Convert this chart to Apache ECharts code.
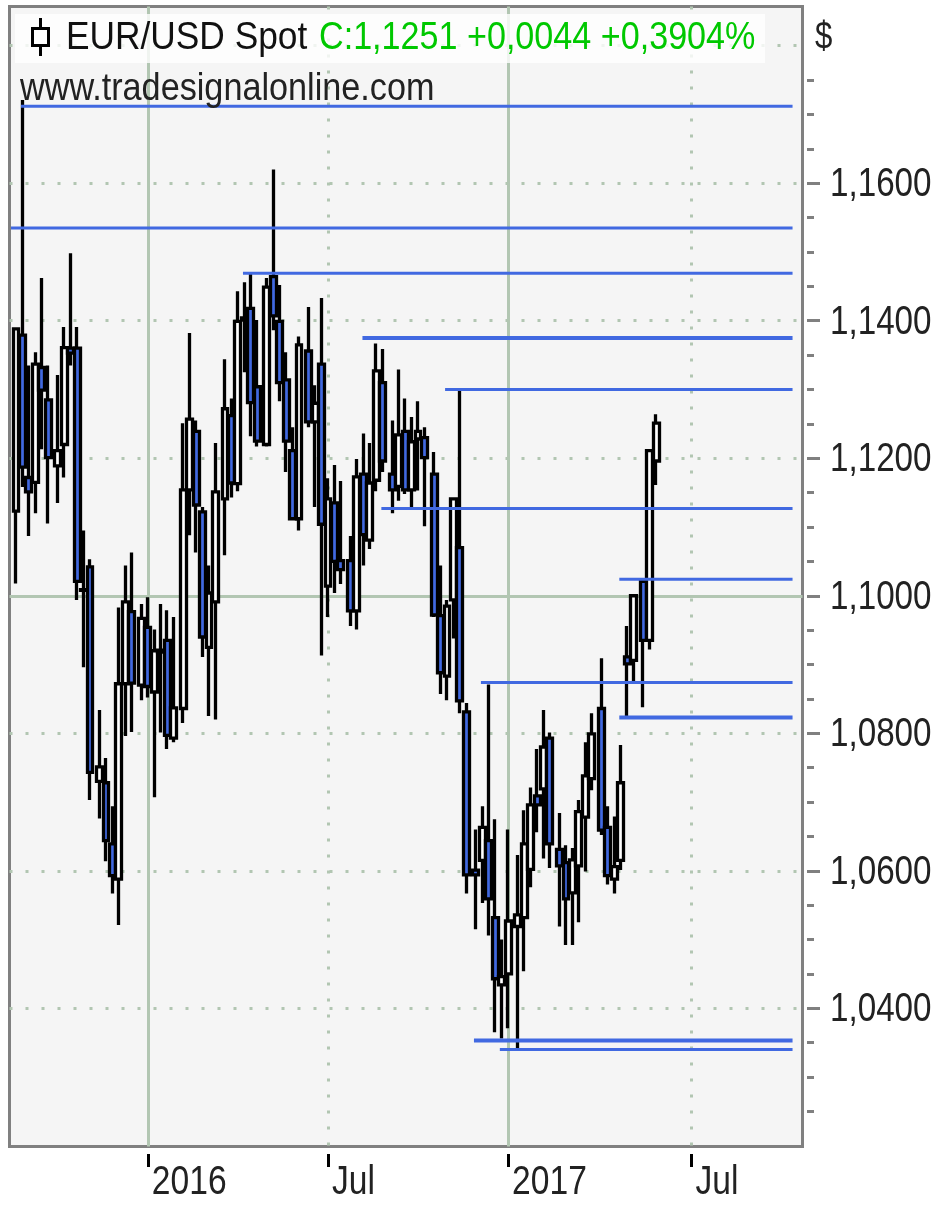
<!DOCTYPE html>
<html>
<head>
<meta charset="utf-8">
<style>html,body{margin:0;padding:0;background:#fff}#chart{width:940px;height:1206px}</style>
<script src="https://cdn.jsdelivr.net/npm/echarts@6/dist/echarts.min.js"></script>
</head>
<body>
<div id="chart"></div>
<script>
// Weekly bars, week-ending date of the first bar
const firstWeek = '2015-08-21';
const opens = [
1.1123,1.1379,1.1172,1.1165,1.1332,1.1285,1.1189,1.1220,1.1360,1.1360,
1.1009,1.1042,1.0730,1.0728,1.0639,1.0588,1.0872,1.0977,1.0870,1.0954,
1.0860,1.0921,1.0935,1.0793,1.0836,1.1154,1.1239,1.1122,1.0925,1.0991,
1.1141,1.1262,1.1163,1.1404,1.1418,1.1304,1.1220,1.1464,1.1399,1.1314,
1.1211,1.1112,1.1356,1.1253,1.1337,1.1014,1.1135,1.1051,1.1051,1.0978,
1.1177,1.1081,1.1168,1.1310,1.1177,1.1159,1.1239,1.1154,1.1228,1.1230,
1.1177,1.0971,1.0883,1.0994,1.1070,1.0831,1.0601,1.0615,1.0644,1.0532,
1.0434,1.0450,1.0519,1.0532,1.0602,1.0709,1.0719,1.0793,1.0631,1.0612,
1.0568,1.0607,1.0678,1.0734,1.0836,1.0663,1.0588,1.0615,1.0911,1.0906,
1.1021,1.0935,1.1196];
const closes = [
1.1388,1.1187,1.1151,1.1337,1.1299,1.1201,1.1211,1.1361,1.1353,1.1021,
1.1008,1.0743,1.0751,1.0644,1.0593,1.0872,1.0991,1.0873,1.0967,1.0868,
1.0920,1.0918,1.0797,1.0837,1.1154,1.1257,1.1132,1.0940,1.1004,1.1151,
1.1272,1.1164,1.1399,1.1401,1.1281,1.1225,1.1449,1.1407,1.1310,1.1225,
1.1112,1.1365,1.1253,1.1280,1.1104,1.1141,1.1050,1.1038,1.0978,1.1173,
1.1089,1.1164,1.1327,1.1196,1.1154,1.1234,1.1154,1.1224,1.1239,1.1201,
1.0972,1.0888,1.0985,1.1141,1.0847,1.0594,1.0594,1.0663,1.0559,1.0443,
1.0446,1.0527,1.0536,1.0639,1.0696,1.0696,1.0780,1.0639,1.0607,1.0559,
1.0616,1.0686,1.0738,1.0799,1.0659,1.0593,1.0606,1.0728,1.0901,1.1000,
1.0935,1.1211,1.1251];
const lows = [
1.1018,1.1158,1.1087,1.1120,1.1213,1.1105,1.1135,1.1172,1.1335,1.0994,
1.0896,1.0703,1.0676,1.0614,1.0567,1.0521,1.0796,1.0802,1.0848,1.0852,
1.0707,1.0801,1.0777,1.0787,1.0815,1.1088,1.1063,1.0911,1.0825,1.0820,
1.1059,1.1143,1.1152,1.1325,1.1232,1.1217,1.1217,1.1386,1.1283,1.1180,
1.1110,1.1095,1.1245,1.1129,1.0913,1.0969,1.1004,1.1017,1.0956,1.0951,
1.1044,1.1068,1.1152,1.1180,1.1120,1.1138,1.1148,1.1129,1.1153,1.1101,
1.0969,1.0857,1.0848,1.0938,1.0829,1.0567,1.0515,1.0553,1.0506,1.0365,
1.0356,1.0371,1.0342,1.0454,1.0576,1.0656,1.0618,1.0604,1.0519,1.0492,
1.0492,1.0525,1.0599,1.0717,1.0652,1.0580,1.0567,1.0601,1.0825,1.0876,
1.0838,1.0922,1.1161];
const highs = [
1.1388,1.1721,1.1335,1.1354,1.1462,1.1335,1.1321,1.1391,1.1498,1.1391,
1.1095,1.1053,1.0834,1.0764,1.0694,1.0983,1.1044,1.1063,1.0988,1.0998,
1.0951,1.0988,1.0979,1.0969,1.1251,1.1382,1.1255,1.1129,1.1044,1.1222,
1.1344,1.1287,1.1443,1.1456,1.1468,1.1401,1.1462,1.1620,1.1452,1.1354,
1.1245,1.1377,1.1420,1.1306,1.1433,1.1171,1.1190,1.1167,1.1087,1.1199,
1.1236,1.1222,1.1367,1.1359,1.1255,1.1329,1.1287,1.1260,1.1283,1.1245,
1.1209,1.1044,1.0994,1.1143,1.1299,1.0844,1.0660,1.0694,1.0871,1.0675,
1.0500,1.0660,1.0623,1.0688,1.0721,1.0777,1.0834,1.0801,1.0684,1.0637,
1.0633,1.0703,1.0787,1.0829,1.0909,1.0694,1.0679,1.0783,1.0956,1.1002,
1.1025,1.1213,1.1264];

// Horizontal support/resistance levels and the date each one starts at
const levelPrices = [1.1712,1.1535,1.1469,1.1375,1.1300,1.1127,1.1024,1.0874,1.0823,1.0353,1.0340];
const levelStarts = ['2015-08-26','2015-08-16','2016-04-05','2016-08-03','2016-10-25','2016-08-22','2017-04-18','2016-11-30','2017-04-18','2016-11-23','2016-12-19'];
const levelEnd = '2017-10-09';

// Time ticks fall on week slots (a slot index past the last bar is a future week)
const xTickWeeks = [19,45,71,97];
const xTickLabels = ['2016','Jul','2017','Jul'];
const solidXWeeks = [19,71];
const dottedXWeeks = [45,97];

const priceTicks = [1.04,1.06,1.08,1.10,1.12,1.14,1.16];
const minorPriceTicks = [1.025,1.03,1.035,1.045,1.05,1.055,1.065,1.07,1.075,1.085,1.09,1.095,1.105,1.11,1.115,1.125,1.13,1.135,1.145,1.15,1.155,1.165,1.17,1.175];
const dottedPrices = [1.04,1.06,1.08,1.12,1.14,1.16,1.18];
const solidPrices = [1.10];

const titleBlack = 'EUR/USD Spot';
const titleGreen = 'C:1,1251 +0,0044 +0,3904%';
const siteText = 'www.tradesignalonline.com';
const unitText = '$';

// ---- styling / build
const DAY = 864e5;
const t = s => +new Date(s + 'T00:00:00');
// The source chart places weeks on whole device pixels: 2 pixels a week with one extra every 6 weeks.
const weekTime = i => t(firstWeek) + (2 * i + Math.floor(i / 6)) * (42 / 13) * DAY;
const xMin = t('2015-08-14') + DAY / 2, xMax = t('2017-10-19');
const yMin = 1.0199, yMax = 1.1857;
const GRID = '#b2c6b2', FRAME = '#808080', BLUE = '#4169e1';
const TEXT_FONT = '"Liberation Sans",Arial,sans-serif';
const thickLevels = [1.1375,1.0823,1.0353];

const bars = opens.map((o, i) => [weekTime(i), o, closes[i], lows[i], highs[i]]);

function hiddenX(values, line) {
  return {type:'value', min:xMin, max:xMax, axisLine:{show:false},
    axisTick:{show:false, customValues:values}, axisLabel:{show:false, customValues:values},
    splitLine:{show:true, lineStyle:line}};
}
function hiddenY(values, line) {
  return {type:'value', min:yMin, max:yMax, scale:true, position:'right', axisLine:{show:false},
    axisTick:{show:false, customValues:values}, axisLabel:{show:false, customValues:values},
    splitLine:{show:true, lineStyle:line}};
}
const dotted = {color:GRID, width:3, type:[3,13]};
const solid = {color:GRID, width:3, type:'solid'};

const levelSeries = levelPrices.map((p, i) => ({
  type:'line', xAxisIndex:0, yAxisIndex:0, silent:true, showSymbol:false, symbol:'none', z:5,
  lineStyle:{color:BLUE, width:thickLevels.includes(p) ? 4 : 3},
  data:[[t(levelStarts[i]), p],[t(levelEnd), p]], animation:false
}));

const option = {
  animation:false,
  backgroundColor:'#ffffff',
  grid:{left:9.5, top:6.5, width:793, height:1140, show:true, backgroundColor:'#f5f5f5', borderColor:FRAME, borderWidth:3, containLabel:false, outerBoundsMode:'none'},
  xAxis:[
    {type:'value', min:xMin, max:xMax, position:'bottom', offset:7.5,
     axisLine:{show:false},
     axisTick:{show:true, length:13, lineStyle:{color:'#000', width:3}, customValues:xTickWeeks.map(weekTime)},
     axisLabel:{show:false, customValues:xTickWeeks.map(weekTime)},
     splitLine:{show:false}},
    hiddenX(dottedXWeeks.map(weekTime), dotted),
    hiddenX(solidXWeeks.map(weekTime), solid)
  ],
  yAxis:[
    {type:'value', min:yMin, max:yMax, scale:true, position:'right', offset:4.5,
     axisLine:{show:false},
     axisTick:{show:true, length:13, lineStyle:{color:FRAME, width:3}, customValues:priceTicks},
     axisLabel:{show:false, customValues:priceTicks},
     splitLine:{show:false}},
    {type:'value', min:yMin, max:yMax, scale:true, position:'right', offset:4.5,
     axisLine:{show:false},
     axisTick:{show:true, length:7, lineStyle:{color:FRAME, width:3}, customValues:minorPriceTicks},
     axisLabel:{show:false, customValues:minorPriceTicks},
     splitLine:{show:false}},
    hiddenY(dottedPrices, dotted),
    hiddenY(solidPrices, solid)
  ],
  series:[
    {type:'candlestick', name:'EUR/USD Spot', xAxisIndex:0, yAxisIndex:0, barWidth:6.4, z:3,
     large:false, progressive:0, animation:false,
     encode:{x:0, y:[1,2,3,4]},
     itemStyle:{color:'#ffffff', color0:BLUE, borderColor:'#000', borderColor0:'#000', borderWidth:3.3},
     data:bars}
  ].concat(levelSeries),
  graphic:[
    {type:'rect', z:50, silent:true, shape:{x:15, y:14, width:750, height:49}, style:{fill:'rgba(255,255,255,0.8)'}},
    {type:'line', z:51, silent:true, shape:{x1:40.5, y1:18, x2:40.5, y2:56}, style:{stroke:'#000', lineWidth:3}},
    {type:'rect', z:52, silent:true, shape:{x:32.5, y:28.5, width:16, height:17}, style:{fill:'#fff', stroke:'#000', lineWidth:3}},
    {type:'text', z:53, silent:true, x:66, y:38, scaleX:0.905, style:{text:titleBlack, fill:'#111', font:'39px '+TEXT_FONT, verticalAlign:'middle', align:'left'}},
    {type:'text', z:53, silent:true, x:319, y:38, scaleX:0.875, style:{text:titleGreen, fill:'#00c800', font:'39px '+TEXT_FONT, verticalAlign:'middle', align:'left'}},
    {type:'text', z:53, silent:true, x:20, y:90, scaleX:0.90, style:{text:siteText, fill:'#222', font:'38px '+TEXT_FONT, verticalAlign:'middle', align:'left'}},
    {type:'text', z:53, silent:true, x:815, y:39, scaleX:0.82, style:{text:unitText, fill:'#222', font:'38px '+TEXT_FONT, verticalAlign:'middle', align:'left'}}
  ]
};
const chart = echarts.init(document.getElementById('chart'), null, {renderer:'canvas', width:940, height:1206});
chart.setOption(option);

// Axis labels: real text, condensed like the reference, placed through the axes' own scales.
const priceLabels = priceTicks.map(v => ({
  type:'text', z:53, silent:true,
  x:830, y:chart.convertToPixel({yAxisIndex:0}, v) + 2, scaleX:0.83,
  style:{text:v.toFixed(4).replace('.', ','), fill:'#222', font:'40px '+TEXT_FONT, verticalAlign:'middle', align:'left'}
}));
const dateLabels = xTickWeeks.map((w, i) => ({
  type:'text', z:53, silent:true,
  x:chart.convertToPixel({xAxisIndex:0}, weekTime(w)) + 4, y:1183, scaleX:0.84,
  style:{text:xTickLabels[i], fill:'#222', font:'40px '+TEXT_FONT, verticalAlign:'middle', align:'left'}
}));
chart.setOption({graphic: option.graphic.concat(priceLabels, dateLabels)});
</script>
</body>
</html>
